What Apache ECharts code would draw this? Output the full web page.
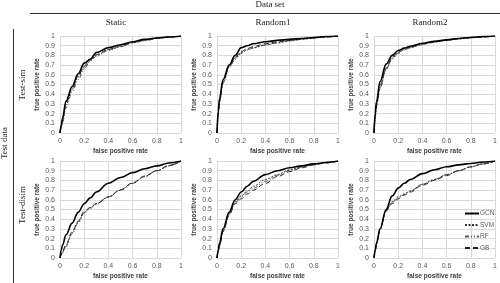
<!DOCTYPE html>
<html>
<head>
<meta charset="utf-8">
<script src="https://cdn.jsdelivr.net/npm/echarts@6/dist/echarts.min.js"></script>
<style>
  html, body { margin: 0; padding: 0; background: #fff; }
  #chart { width: 500px; height: 283px; }
</style>
</head>
<body>
<div id="chart"></div>
<script>
  // false positive rate samples shared by every curve
  const fpr = [0, 0.01, 0.02, 0.05, 0.1, 0.15, 0.2, 0.25, 0.3, 0.4, 0.5, 0.6, 0.7, 0.8, 0.9, 1];
  const models = ['GCN', 'SVM', 'RF', 'GB'];
  const columns = ['Static', 'Random1', 'Random2'];
  const rows = ['Test-sim', 'Test-disim'];

  // true positive rate, order: GCN, SVM, RF, GB
  const staticSim = [
    [0, 0.08, 0.15, 0.33, 0.48, 0.61, 0.72, 0.76, 0.83, 0.88, 0.91, 0.94, 0.965, 0.98, 0.99, 1],
    [0, 0.06, 0.12, 0.29, 0.45, 0.58, 0.68, 0.75, 0.80, 0.86, 0.89, 0.93, 0.955, 0.975, 0.99, 1],
    [0, 0.05, 0.10, 0.26, 0.42, 0.55, 0.66, 0.74, 0.79, 0.85, 0.89, 0.93, 0.95, 0.975, 0.99, 1],
    [0, 0.07, 0.13, 0.31, 0.46, 0.59, 0.69, 0.76, 0.81, 0.86, 0.90, 0.935, 0.96, 0.98, 0.99, 1]
  ];
  const random1Sim = [
    [0, 0.22, 0.35, 0.55, 0.70, 0.80, 0.88, 0.90, 0.92, 0.94, 0.955, 0.965, 0.975, 0.985, 0.995, 1],
    [0, 0.20, 0.32, 0.52, 0.68, 0.77, 0.83, 0.86, 0.88, 0.91, 0.93, 0.95, 0.965, 0.98, 0.99, 1],
    [0, 0.19, 0.31, 0.51, 0.67, 0.76, 0.82, 0.855, 0.875, 0.905, 0.93, 0.95, 0.965, 0.98, 0.99, 1],
    [0, 0.21, 0.33, 0.53, 0.69, 0.78, 0.84, 0.87, 0.89, 0.92, 0.94, 0.955, 0.97, 0.98, 0.99, 1]
  ];
  const random2Sim = [
    [0, 0.20, 0.32, 0.53, 0.71, 0.80, 0.85, 0.875, 0.895, 0.925, 0.945, 0.96, 0.975, 0.985, 0.995, 1],
    [0, 0.17, 0.28, 0.47, 0.66, 0.77, 0.83, 0.86, 0.88, 0.915, 0.94, 0.955, 0.97, 0.985, 0.99, 1],
    [0, 0.16, 0.27, 0.46, 0.65, 0.76, 0.82, 0.855, 0.88, 0.91, 0.935, 0.955, 0.97, 0.98, 0.99, 1],
    [0, 0.18, 0.29, 0.49, 0.67, 0.78, 0.835, 0.865, 0.885, 0.92, 0.94, 0.96, 0.975, 0.985, 0.99, 1]
  ];
  const staticDisim = [
    [0, 0.08, 0.13, 0.24, 0.36, 0.47, 0.56, 0.62, 0.68, 0.77, 0.83, 0.88, 0.92, 0.95, 0.98, 1],
    [0, 0.03, 0.06, 0.13, 0.26, 0.37, 0.47, 0.52, 0.56, 0.63, 0.70, 0.77, 0.84, 0.90, 0.95, 1],
    [0, 0.03, 0.05, 0.12, 0.25, 0.36, 0.46, 0.51, 0.555, 0.625, 0.70, 0.77, 0.84, 0.90, 0.95, 1],
    [0, 0.035, 0.065, 0.14, 0.27, 0.38, 0.48, 0.52, 0.56, 0.63, 0.705, 0.775, 0.845, 0.90, 0.955, 1]
  ];
  const random1Disim = [
    [0, 0.08, 0.15, 0.30, 0.47, 0.60, 0.68, 0.74, 0.79, 0.86, 0.90, 0.93, 0.95, 0.97, 0.985, 1],
    [0, 0.07, 0.13, 0.28, 0.45, 0.58, 0.64, 0.69, 0.74, 0.81, 0.86, 0.91, 0.94, 0.965, 0.985, 1],
    [0, 0.07, 0.13, 0.28, 0.45, 0.57, 0.63, 0.68, 0.72, 0.79, 0.85, 0.90, 0.935, 0.96, 0.985, 1],
    [0, 0.065, 0.12, 0.27, 0.44, 0.56, 0.61, 0.66, 0.70, 0.77, 0.84, 0.89, 0.93, 0.96, 0.98, 1]
  ];
  const random2Disim = [
    [0, 0.08, 0.15, 0.30, 0.50, 0.64, 0.72, 0.77, 0.81, 0.87, 0.91, 0.94, 0.96, 0.975, 0.99, 1],
    [0, 0.08, 0.15, 0.30, 0.49, 0.58, 0.63, 0.66, 0.69, 0.76, 0.81, 0.86, 0.90, 0.94, 0.97, 1],
    [0, 0.07, 0.14, 0.29, 0.48, 0.57, 0.62, 0.65, 0.69, 0.76, 0.81, 0.86, 0.90, 0.94, 0.97, 1],
    [0, 0.08, 0.15, 0.30, 0.49, 0.56, 0.61, 0.65, 0.68, 0.75, 0.80, 0.85, 0.90, 0.94, 0.97, 1]
  ];

  const panels = [staticSim, random1Sim, random2Sim, staticDisim, random1Disim, random2Disim];

  const colLeft = [60, 217, 374];
  const rowTop = [36, 161];
  const lineStyles = [
    { color: '#000', width: 1.6, type: 'solid' },
    { color: '#333', width: 1, type: [2, 1.5] },
    { color: '#555', width: 1, type: [4, 2, 1, 2, 1, 2] },
    { color: '#222', width: 1, type: [5, 3] }
  ];

  const labelFont = 'Liberation Sans';
  const serif = 'Liberation Serif';

  let grids = [], xAxes = [], yAxes = [], series = [];
  panels.forEach((panel, i) => {
    let r = Math.floor(i / 3), c = i % 3;
    grids.push({ left: colLeft[c], top: rowTop[r], width: c === 2 ? 123 : 121, height: 97 });
    xAxes.push({
      gridIndex: i, type: 'value', min: 0, max: 1, interval: 0.2,
      name: 'false positive rate', nameLocation: 'middle', nameGap: 15,
      nameTextStyle: { fontSize: 6.5, fontWeight: 'bold', color: '#404040', fontFamily: labelFont },
      axisLine: { show: false }, axisTick: { show: false },
      splitLine: { lineStyle: { color: '#d9d9d9', width: 1 } },
      axisLabel: { fontSize: 7, color: '#595959', margin: 5, fontFamily: labelFont }
    });
    yAxes.push({
      gridIndex: i, type: 'value', min: 0, max: 1, interval: 0.1,
      name: 'true positive rate', nameLocation: 'middle', nameGap: 19,
      nameTextStyle: { fontSize: 6.5, fontWeight: 'bold', color: '#404040', fontFamily: labelFont },
      axisLine: { show: false }, axisTick: { show: false },
      splitLine: { lineStyle: { color: '#d9d9d9', width: 1 } },
      axisLabel: { fontSize: 7, color: '#595959', margin: 5, fontFamily: labelFont }
    });
    panel.forEach((tpr, k) => {
      series.push({
        name: models[k], type: 'line', xAxisIndex: i, yAxisIndex: i,
        data: fpr.map((x, j) => [x, tpr[j]]),
        symbol: 'none', smooth: 0.35, smoothMonotone: 'x',
        lineStyle: lineStyles[k], itemStyle: { color: lineStyles[k].color },
        z: 10 - k, animation: false
      });
    });
  });

  const headerText = (text, x, y, rotate) => ({
    type: 'text', x: x, y: y, rotation: rotate ? Math.PI / 2 : 0,
    style: { text: text, fontSize: 9, fontFamily: serif, fill: '#222', align: 'center', verticalAlign: 'middle' }
  });

  let graphics = [
    { type: 'line', shape: { x1: 30, y1: 13.5, x2: 500, y2: 13.5 }, style: { stroke: '#333', lineWidth: 1 } },
    { type: 'line', shape: { x1: 13.5, y1: 29, x2: 13.5, y2: 283 }, style: { stroke: '#333', lineWidth: 1 } },
    headerText('Data set', 270, 5),
    headerText('Test data', 5, 143, true),
    headerText(rows[0], 23, 85, true),
    headerText(rows[1], 23, 205, true)
  ];
  columns.forEach((name, c) => graphics.push(headerText(name, colLeft[c] + 56, 23)));

  const chart = echarts.init(document.getElementById('chart'));
  chart.setOption({
    animation: false,
    grid: grids,
    xAxis: xAxes,
    yAxis: yAxes,
    series: series,
    graphic: graphics,
    legend: {
      data: models, orient: 'vertical', left: 459, top: 205,
      itemWidth: 14, itemHeight: 6, itemGap: 4.5,
      itemStyle: { opacity: 0 },
      textStyle: { fontSize: 6.5, color: '#595959', fontFamily: labelFont, padding: [0, 0, 0, -4] }
    }
  });
</script>
</body>
</html>
